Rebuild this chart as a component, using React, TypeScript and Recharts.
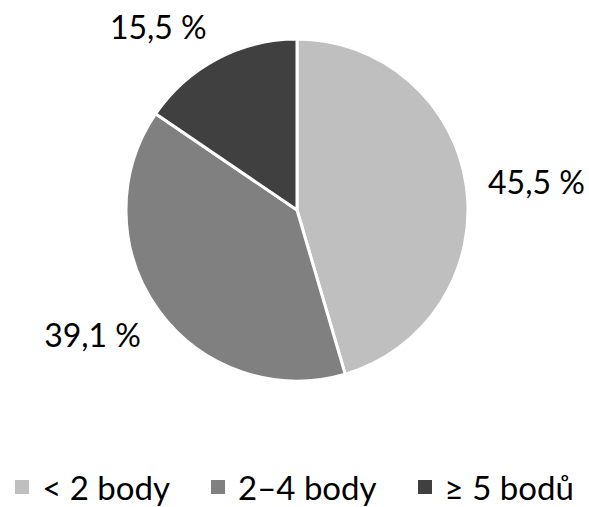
import { PieChart, Pie, Cell, Legend } from 'recharts'

const CATEGORIES = ['< 2 body', '2–4 body', '≥ 5 bodů']
const SHARES = [45.5, 39.1, 15.5]
const COLORS = ['#bfbfbf', '#808080', '#404040']

const data = CATEGORIES.map((name, i) => ({ name, value: SHARES[i], color: COLORS[i] }))

const FONT = 'Lato, "Open Sans", sans-serif'
const RAD = Math.PI / 180
const CAP = 23

// Excel-like "outside end" label: anchored by the corner nearest the pie
const renderLabel = (props: any) => {
  const { cx, cy, midAngle, outerRadius, value } = props
  const r = outerRadius + 22
  const cos = Math.cos(-midAngle * RAD)
  const sin = Math.sin(-midAngle * RAD)
  const x = cx + r * cos
  const y = cy + r * sin
  const anchor = cos > 0.3 ? 'start' : cos < -0.3 ? 'end' : 'middle'
  const baseY = sin < -0.3 ? y : sin > 0.3 ? y + CAP : y + CAP / 2
  return (
    <text x={x} y={baseY} textAnchor={anchor} fill="#000" fontSize={32} fontFamily={FONT}>
      {`${String(value).replace('.', ',')} %`}
    </text>
  )
}

const renderLegend = (props: any) => {
  const payload = [...(props.payload || [])].sort(
    (a: any, b: any) => CATEGORIES.indexOf(a.value) - CATEGORIES.indexOf(b.value)
  )
  return (
    <div style={{ display: 'flex', justifyContent: 'center', gap: 41, fontFamily: FONT, fontSize: 33, color: '#000', lineHeight: '40px' }}>
      {payload.map((entry: any) => (
        <div key={entry.value} style={{ display: 'flex', alignItems: 'center' }}>
          <span style={{ width: 14, height: 14, background: entry.color, marginRight: 13, display: 'inline-block' }} />
          <span>{entry.value}</span>
        </div>
      ))}
    </div>
  )
}

export default function App() {
  return (
    <div style={{ position: 'absolute', left: 0, top: 0, width: 589, height: 507, background: '#fff' }}>
      <PieChart width={589} height={507} margin={{ top: 0, right: 0, bottom: 0, left: 0 }}>
        <Pie
          data={data}
          dataKey="value"
          nameKey="name"
          cx={297}
          cy={210}
          outerRadius={171}
          startAngle={90}
          endAngle={-270}
          stroke="#fff"
          strokeWidth={3}
          label={renderLabel}
          labelLine={false}
          isAnimationActive={false}
        >
          {data.map((d, i) => (
            <Cell key={`cell-${i}`} fill={d.color} />
          ))}
        </Pie>
        <Legend
          content={renderLegend}
          verticalAlign="bottom"
          wrapperStyle={{ bottom: 0, left: 0, width: 589 }}
        />
      </PieChart>
    </div>
  )
}
